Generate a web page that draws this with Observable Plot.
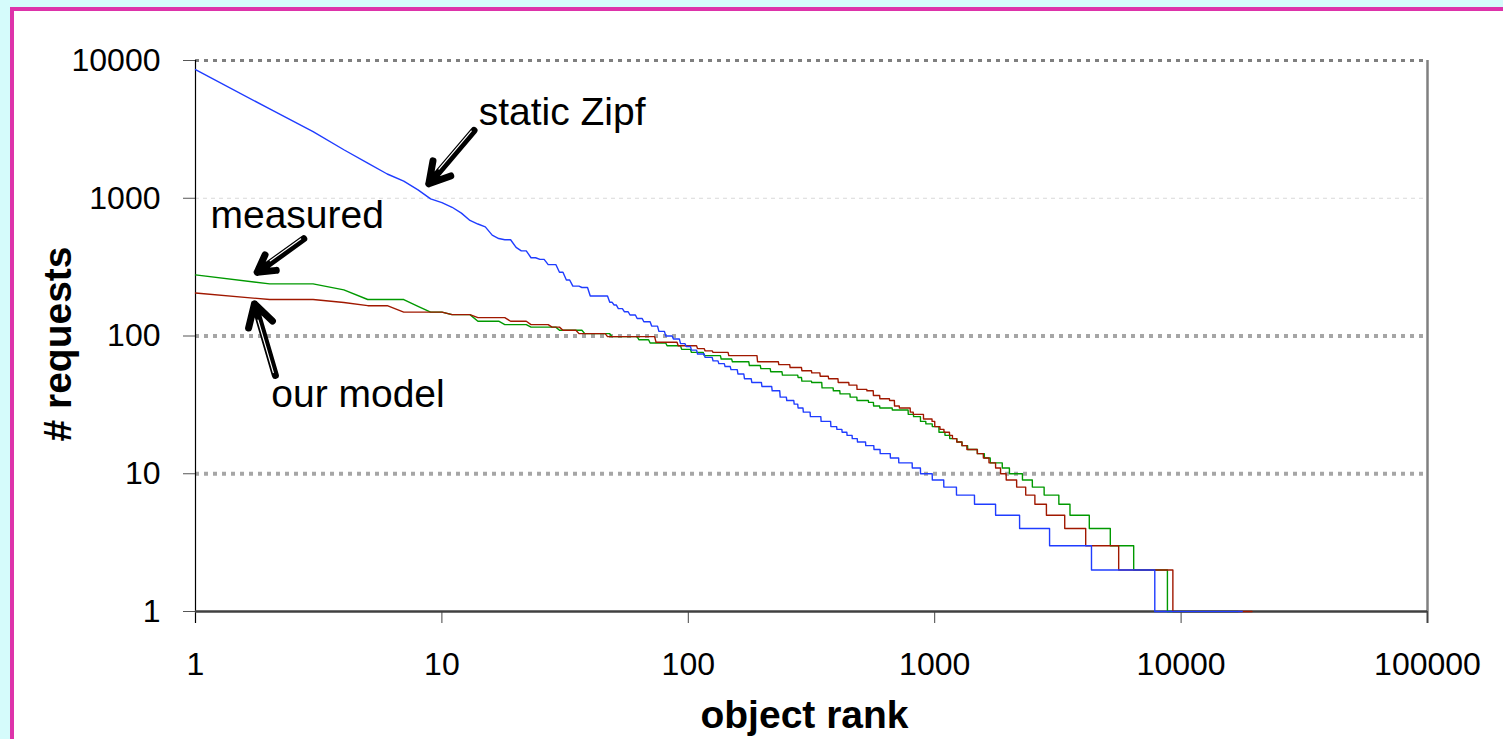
<!DOCTYPE html>
<html><head><meta charset="utf-8">
<script src="https://cdn.jsdelivr.net/npm/d3@7"></script>
<script src="https://cdn.jsdelivr.net/npm/@observablehq/plot@0.6"></script>
<style>
html,body{margin:0;padding:0;width:1503px;height:739px;overflow:hidden;background:#d5fbfb;}
#frame{position:absolute;left:10px;top:7px;width:1493px;height:732px;background:#fff;border-left:4px solid #dd33aa;border-top:4px solid #dd33aa;}
#chart{position:absolute;left:0;top:0;}
</style></head><body>
<div id="frame"></div><div id="chart"></div>
<script>
// tick values
const xTicks = [1, 10, 100, 1000, 10000, 100000];
const yTicks = [1, 10, 100, 1000, 10000];

// static Zipf: request count per level, and last rank holding that count
const zipfReq = [8600,4450,3050,2250,1800,1500,1330,1150,990,930,860,780,690,650,620,540,510,500,440,415,370,360,330,290,255,230,225,195,176,168,158,150,142,134,127,118,108,100,95,88,84,79,74,70,66,63,60,57,53,49,46,43,40,36,34,32,30,28,26,24,22,21,20,19,18,17,16,15,14,13,12,11,10,9,8,7,6,5,4,3,2,1];
const zipfLast = [1,2,3,4,5,6,7,8,9,10,11,12,13,14,15,16,17,19,20,22,24,26,29,31,33,36,39,47,49,51,54,57,61,65,70,75,80,86,92,97,102,108,116,125,132,140,148,158,168,180,198,218,235,250,268,278,292,312,345,378,400,420,440,462,485,524,566,600,660,714,810,875,977,1088,1225,1450,1766,2210,2925,4328,7820,17700];

// our model
const modelReq = [205,184,175,166,149,143,136,128,121,116,110,104,99,90,85,81,78,76,72,65,62,59,56,54,51,49,46,44,41,40,37,35,34,31,30,28,27,25,24,22,21,20,19,18,17,16,15,14,13,12,11,10,9,8,7,6,5,4,3,2,1];
const modelLast = [1,3,4,6,10,13,18,22,27,30,35,46,73,90,108,116,125,145,190,232,258,288,316,342,370,405,448,483,530,563,598,655,686,718,795,818,900,975,1000,1050,1090,1148,1180,1228,1290,1350,1488,1575,1660,1766,1850,1950,2150,2340,2550,2840,3370,4100,5580,9260,19400];

// measured
const measReq = [278,239,216,184,164,149,143,128,121,116,110,104,99,94,89,85,80,76,72,68,65,61,58,55,52,50,47,46,42,40,38,36,34,33,31,30,29,27,26,24,23,22,20,19,18,17,16,15,14,13,12,11,10,9,8,7,6,5,4,3,2,1];
const measLast = [1,3,4,7,8,10,13,17,22,29,37,48,62,69,81,93,102,115,135,150,176,196,215,240,278,288,316,348,387,412,453,483,538,564,598,672,780,820,875,920,977,1040,1100,1150,1230,1290,1360,1490,1590,1680,1880,2010,2270,2490,2780,3190,3540,4240,5160,6420,8800,17000];

// annotations (data coordinates)
const annoText = ["static Zipf", "measured", "our model"];
const annoRank = [14.1, 1.15, 2.03];
const annoReq = [3430, 613, 30.3];
const arrowRank1 = [13.5, 2.75, 2.11];
const arrowReq1 = [3104, 508, 51.7];
const arrowRank2 = [8.85, 1.78, 1.735];
const arrowReq2 = [1273, 290, 171];

function vertices(req, last) {
  const pts = [];
  let first = 1;
  req.forEach((v, i) => {
    pts.push({rank: first, req: v});
    if (last[i] > first) pts.push({rank: last[i], req: v});
    first = last[i] + 1;
  });
  return pts;
}
const zipf = vertices(zipfReq, zipfLast);
const model = vertices(modelReq, modelLast);
const meas = vertices(measReq, measLast);
const annos = annoText.map((t, i) => ({t, x: annoRank[i], y: annoReq[i]}));
const arrows = annoText.map((t, i) => ({x1: arrowRank1[i], y1: arrowReq1[i], x2: arrowRank2[i], y2: arrowReq2[i]}));

const fmt = d => String(d);
const chart = Plot.plot({
  width: 1503, height: 739,
  marginLeft: 195, marginRight: 76, marginTop: 60, marginBottom: 128,
  style: {background: "transparent", fontFamily: "'Liberation Sans', Arial, sans-serif", fontSize: "32px", color: "#000", overflow: "visible"},
  x: {type: "log", domain: [1, 100000]},
  y: {type: "log", domain: [1, 10000]},
  marks: [
    Plot.ruleY([1000], {stroke: "#d9d9d9", strokeWidth: 1, strokeDasharray: "4,4"}),
    Plot.ruleY([100, 10], {stroke: "#a6a6a6", strokeWidth: 4, strokeDasharray: "4,5"}),
    Plot.ruleY([10000], {stroke: "#7f7f7f", strokeWidth: 3, strokeDasharray: "4,5"}),
    Plot.ruleX([100000], {stroke: "#808080", strokeWidth: 2.5, insetBottom: -12}),
    Plot.axisY(yTicks, {tickSize: 12, tickPadding: 23, tickFormat: fmt, label: null, stroke: "#555", fontSize: 32}),
    Plot.axisX(xTicks, {tickSize: 12, tickPadding: 29, tickFormat: fmt, label: null, stroke: "#444", fontSize: 32}),
    Plot.ruleX([1], {stroke: "#000", strokeWidth: 1.2, insetBottom: -12}),
    Plot.ruleY([1], {stroke: "#404040", strokeWidth: 2.5}),
    Plot.line(meas, {x: "rank", y: "req", stroke: "#009900", strokeWidth: 1.4}),
    Plot.line(model, {x: "rank", y: "req", stroke: "#a01800", strokeWidth: 1.4}),
    Plot.line(zipf, {x: "rank", y: "req", stroke: "#1f3cff", strokeWidth: 1.4}),
    Plot.arrow(arrows, {x1: "x1", y1: "y1", x2: "x2", y2: "y2", stroke: "#000", strokeWidth: 7, headLength: 22, headAngle: 60}),
    Plot.arrow(arrows, {x1: "x1", y1: "y1", x2: "x2", y2: "y2", stroke: "#fff", strokeWidth: 1.2, headLength: 0, insetEnd: 18, insetStart: 2, dx: -1.5, dy: -1}),
    Plot.text(annos, {x: "x", y: "y", text: "t", textAnchor: "start", lineAnchor: "bottom", fontSize: 39, fill: "#000"}),
    Plot.text(["# requests"], {frameAnchor: "left", textAnchor: "middle", dx: -137, dy: 8, rotate: -90, fontSize: 39, fontWeight: "bold", fill: "#000"}),
    Plot.text(["object rank"], {frameAnchor: "bottom", textAnchor: "middle", dx: -7, dy: 116, lineAnchor: "bottom", fontSize: 39, fontWeight: "bold", fill: "#000"})
  ]
});
document.getElementById("chart").appendChild(chart);
</script>
</body></html>
